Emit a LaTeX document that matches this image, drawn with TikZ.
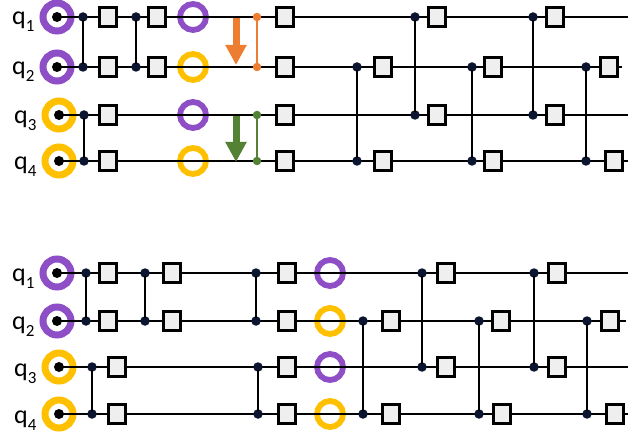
\documentclass[tikz,border=0pt]{standalone}
\usepackage{fontspec}
\setmainfont{Carlito}
\usetikzlibrary{arrows.meta}
\definecolor{qpurple}{HTML}{8E4EC6}
\definecolor{qyellow}{HTML}{FFC000}
\definecolor{qorange}{HTML}{ED7D31}
\definecolor{qgreen}{HTML}{548235}
\definecolor{dotc}{HTML}{0B1530}
\definecolor{boxgray}{HTML}{EFEFEF}
\newcommand\czgate[4]{\node[ctrl] (#1a) at (#2,#3) {}; \node[ctrl] (#1b) at (#2,#4) {}; \draw[vline] (#1a) -- (#1b);}
\newcommand\gbox[3]{\node[gate] (#1) at (#2,#3) {};}
\newcommand\qlab[4]{\node[qlabel] (#1) at (#2,#3) {q\raisebox{-7pt}{\fontsize{17}{17}\selectfont #4}};}
\begin{document}
\begin{tikzpicture}[x=1pt,y=-1pt,
  wire/.style={line width=2.8pt,black},
  vline/.style={line width=2.6pt,black,shorten >=-2pt,shorten <=-2pt},
  gate/.style={draw=black,line width=3pt,fill=boxgray,rectangle,minimum width=17pt,minimum height=19pt,inner sep=0pt},
  ctrl/.style={circle,fill=dotc,inner sep=0pt,minimum size=9.5pt},
  inring/.style={circle,draw,line width=7pt,minimum size=28pt,inner sep=0pt},
  midring/.style={circle,draw,line width=5.8pt,minimum size=26pt,inner sep=0pt},
  indot/.style={circle,fill=black,inner sep=0pt,minimum size=10pt},
  qlabel/.style={anchor=base west,inner sep=0pt,font=\fontsize{26}{26}\selectfont},
  cdot/.style={circle,inner sep=0pt,minimum size=8.5pt},
  bigarrow/.style={line width=7pt,-{Triangle[width=20pt,length=20pt]}}
]
\useasboundingbox (0,0) rectangle (644,443);
% ---------------- top panel ----------------
\def\Ya{17}\def\Yb{67}\def\Yc{115}\def\Yd{161}
% rings
\node[inring,draw=qpurple] (tl1) at (57,\Ya) {};
\node[inring,draw=qpurple] (tl2) at (57,\Yb) {};
\node[inring,draw=qyellow] (tl3) at (59,\Yc) {};
\node[inring,draw=qyellow] (tl4) at (59,\Yd) {};
\node[midring,draw=qpurple] (tm1) at (193,\Ya) {};
\node[midring,draw=qyellow] (tm2) at (193,\Yb) {};
\node[midring,draw=qpurple] (tm3) at (193,\Yc) {};
\node[midring,draw=qyellow] (tm4) at (193,\Yd) {};
% wires
\coordinate (te1) at (628,\Ya);
\coordinate (te2) at (622,\Yb);
\coordinate (te3) at (628,\Yc);
\coordinate (te4) at (628,\Yd);
\draw[wire] (tl1.center) -- (te1);
\draw[wire] (tl2.center) -- (te2);
\draw[wire] (tl3.center) -- (te3);
\draw[wire] (tl4.center) -- (te4);
\node[indot] (td1) at (tl1.center) {};
\node[indot] (td2) at (tl2.center) {};
\node[indot] (td3) at (tl3.center) {};
\node[indot] (td4) at (tl4.center) {};
% labels
\qlab{tq1}{12}{\Ya+8}{1}
\qlab{tq2}{12}{\Yb+8}{2}
\qlab{tq3}{14}{\Yc+9}{3}
\qlab{tq4}{14}{\Yd+9}{4}
% gates
\czgate{tcA}{83}{\Ya}{\Yb}
\czgate{tcB}{136}{\Ya}{\Yb}
\czgate{tcC}{84}{\Yc}{\Yd}
\gbox{tg1}{108}{\Ya}\gbox{tg2}{108}{\Yb}\gbox{tg3}{108}{\Yc}\gbox{tg4}{108}{\Yd}
\gbox{tg5}{157}{\Ya}\gbox{tg6}{157}{\Yb}
% arrows and swaps
\coordinate (toa) at (236,18); \coordinate (tob) at (236,65);
\draw[bigarrow,qorange] (toa) -- (tob);
\coordinate (tga) at (236,116); \coordinate (tgb) at (236,162);
\draw[bigarrow,qgreen] (tga) -- (tgb);
\node[cdot,fill=qorange] (tso1) at (257,\Ya) {};
\node[cdot,fill=qorange] (tso2) at (257,\Yb) {};
\draw[line width=2.4pt,qorange] (tso1) -- (tso2);
\node[cdot,fill=qgreen] (tsg1) at (257,\Yc) {};
\node[cdot,fill=qgreen] (tsg2) at (257,\Yd) {};
\draw[line width=2.4pt,qgreen] (tsg1) -- (tsg2);
\gbox{tg7}{285}{\Ya}\gbox{tg8}{285}{\Yb}\gbox{tg9}{285}{\Yc}\gbox{tg10}{285}{\Yd}
\czgate{tcD}{357}{\Yb}{\Yd}
\gbox{tg11}{383}{\Yb}\gbox{tg12}{383}{\Yd}
\czgate{tcE}{415}{\Ya}{\Yc}
\gbox{tg13}{437}{\Ya}\gbox{tg14}{437}{\Yc}
\czgate{tcF}{472}{\Yb}{\Yd}
\gbox{tg15}{493}{\Yb}\gbox{tg16}{493}{\Yd}
\czgate{tcG}{533}{\Ya}{\Yc}
\gbox{tg17}{555}{\Ya}\gbox{tg18}{555}{\Yc}
\czgate{tcH}{586}{\Yb}{\Yd}
\gbox{tg19}{609}{\Yb}\gbox{tg20}{614}{\Yd}
% ---------------- bottom panel ----------------
\def\Ba{273}\def\Bb{321}\def\Bc{367}\def\Bd{414}
\node[inring,draw=qpurple] (bl1) at (57,\Ba) {};
\node[inring,draw=qpurple] (bl2) at (57,\Bb) {};
\node[inring,draw=qyellow] (bl3) at (59,\Bc) {};
\node[inring,draw=qyellow] (bl4) at (59,\Bd) {};
\node[midring,draw=qpurple] (bm1) at (330,\Ba) {};
\node[midring,draw=qyellow] (bm2) at (330,\Bb) {};
\node[midring,draw=qpurple] (bm3) at (330,\Bc) {};
\node[midring,draw=qyellow] (bm4) at (330,\Bd) {};
\coordinate (be1) at (628,\Ba);
\coordinate (be2) at (626,\Bb);
\coordinate (be3) at (628,\Bc);
\coordinate (be4) at (628,\Bd);
\draw[wire] (bl1.center) -- (be1);
\draw[wire] (bl2.center) -- (be2);
\draw[wire] (bl3.center) -- (be3);
\draw[wire] (bl4.center) -- (be4);
\node[indot] (bd1) at (bl1.center) {};
\node[indot] (bd2) at (bl2.center) {};
\node[indot] (bd3) at (bl3.center) {};
\node[indot] (bd4) at (bl4.center) {};
\qlab{bq1}{12}{\Ba+8}{1}
\qlab{bq2}{12}{\Bb+8}{2}
\qlab{bq3}{14}{\Bc+9}{3}
\qlab{bq4}{14}{\Bd+9}{4}
\czgate{bcA}{86}{\Ba}{\Bb}
\gbox{bg1}{108}{\Ba}\gbox{bg2}{108}{\Bb}
\czgate{bcB}{145}{\Ba}{\Bb}
\gbox{bg3}{172}{\Ba}\gbox{bg4}{172}{\Bb}
\czgate{bcC}{92}{\Bc}{\Bd}
\gbox{bg5}{117}{\Bc}\gbox{bg6}{117}{\Bd}
\czgate{bcD}{256}{\Ba}{\Bb}
\czgate{bcE}{258}{\Bc}{\Bd}
\gbox{bg7}{287}{\Ba}\gbox{bg8}{287}{\Bb}\gbox{bg9}{287}{\Bc}\gbox{bg10}{287}{\Bd}
\czgate{bcF}{363}{\Bb}{\Bd}
\gbox{bg11}{391}{\Bb}\gbox{bg12}{391}{\Bd}
\czgate{bcG}{422}{\Ba}{\Bc}
\gbox{bg13}{446}{\Ba}\gbox{bg14}{446}{\Bc}
\czgate{bcH}{479}{\Bb}{\Bd}
\gbox{bg15}{501}{\Bb}\gbox{bg16}{502}{\Bd}
\czgate{bcI}{534}{\Ba}{\Bc}
\gbox{bg17}{557}{\Ba}\gbox{bg18}{557}{\Bc}
\czgate{bcJ}{587}{\Bb}{\Bd}
\gbox{bg19}{610}{\Bb}\gbox{bg20}{615}{\Bd}
\end{tikzpicture}
\end{document}
